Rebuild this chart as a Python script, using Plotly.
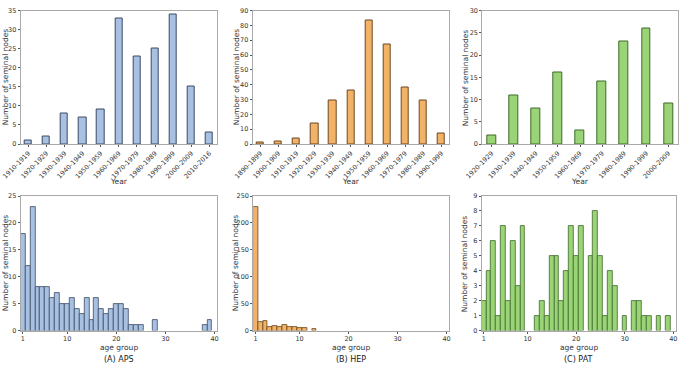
import plotly.graph_objects as go

# ---------------- data ----------------
aps_decades = ["1910-1919", "1920-1929", "1930-1939", "1940-1949", "1950-1959", "1960-1969",
               "1970-1979", "1980-1989", "1990-1999", "2000-2009", "2010-2016"]
aps_decade_counts = [1, 2, 8, 7, 9, 33, 23, 25, 34, 15, 3]

hep_decades = ["1890-1899", "1900-1909", "1910-1919", "1920-1929", "1930-1939", "1940-1949",
               "1950-1959", "1960-1969", "1970-1979", "1980-1989", "1990-1999"]
hep_decade_counts = [1, 2, 4, 14, 29, 36, 83, 67, 38, 29, 7]

pat_decades = ["1920-1929", "1930-1939", "1940-1949", "1950-1959", "1960-1969",
               "1970-1979", "1980-1989", "1990-1999", "2000-2009"]
pat_decade_counts = [2, 11, 8, 16, 3, 14, 23, 26, 9]

age_groups = list(range(1, 41))
aps_age_counts = [18, 12, 23, 8, 8, 8, 6, 7, 5, 5, 6, 4, 3, 6, 2, 6, 4, 3, 4, 5,
                  5, 4, 1, 1, 1, 0, 0, 2, 0, 0, 0, 0, 0, 0, 0, 0, 0, 1, 2, 0]
hep_age_counts = [230, 16, 17, 7, 9, 6, 10, 6, 6, 4, 5, 0, 2, 0, 0, 0, 0, 0, 0, 0,
                  0, 0, 0, 0, 0, 0, 0, 0, 0, 0, 0, 0, 0, 0, 0, 0, 0, 0, 0, 0]
pat_age_counts = [2, 4, 6, 1, 7, 2, 6, 3, 7, 0, 0, 1, 2, 1, 5, 5, 2, 4, 7, 5,
                  7, 0, 5, 8, 5, 1, 4, 3, 0, 1, 0, 2, 2, 1, 1, 0, 1, 0, 1, 0]

captions = ["(A) APS", "(B) HEP", "(C) PAT"]
ytitle = "Number of seminal nodes"

# ---------------- styling ----------------
W, H = 682, 365
FONT = "DejaVu Sans, Liberation Sans, sans-serif"
colors = [("#a8c0e2", "#3b4b66"), ("#f2b267", "#6a4720"), ("#9bd477", "#3c6a29")]

top_x = [(20.7, 217), (252.7, 449), (482.3, 677.7)]
bot_x = [(20.7, 217.3), (253.3, 449.3), (481.7, 676)]
top_y = (10.5, 144)
bot_y = (196, 330.5)
top_yrange = [35, 90, 30]
top_ydtick = [5, 10, 5]
bot_yrange = [25, 250, 9]
bot_ydtick = [5, 50, 1]
yt_x_top = [5, 236, 465]
yt_x_bot = [5, 235, 464]


def px2x(a, b):
    return [a / W, b / W]


def px2y(a, b):
    return [1 - b / H, 1 - a / H]


fig = go.Figure()
layout = {}

top_data = [(aps_decades, aps_decade_counts), (hep_decades, hep_decade_counts),
            (pat_decades, pat_decade_counts)]
bot_data = [aps_age_counts, hep_age_counts, pat_age_counts]

axis_common = dict(showgrid=False, zeroline=False, showline=True, mirror=True,
                   linecolor="#a9a9a9", linewidth=1, ticks="outside", ticklen=2,
                   tickcolor="#555555", automargin=False,
                   tickfont=dict(size=6.5, color="#333333", family=FONT))

for i in range(3):
    fill, edge = colors[i]
    # top decade bar chart
    xi = 2 * i + 1
    cats, vals = top_data[i]
    fig.add_trace(go.Bar(x=cats, y=vals, width=0.4,
                         marker=dict(color=fill, line=dict(color=edge, width=1)),
                         xaxis=f"x{xi}", yaxis=f"y{xi}", showlegend=False))
    n = len(cats)
    layout[f"xaxis{xi}"] = dict(axis_common, domain=px2x(*top_x[i]), anchor=f"y{xi}",
                                type="category", range=[-0.42, n - 0.58], tickangle=-45)
    layout[f"yaxis{xi}"] = dict(axis_common, domain=px2y(*top_y), anchor=f"x{xi}",
                                range=[0, top_yrange[i]], dtick=top_ydtick[i])

    # bottom age-group histogram
    xj = 2 * i + 2
    ax = [a for a, v in zip(age_groups, bot_data[i]) if v > 0]
    av = [v for v in bot_data[i] if v > 0]
    fig.add_trace(go.Bar(x=ax, y=av, width=1,
                         marker=dict(color=fill, line=dict(color=edge, width=0.8)),
                         xaxis=f"x{xj}", yaxis=f"y{xj}", showlegend=False))
    layout[f"xaxis{xj}"] = dict(axis_common, domain=px2x(*bot_x[i]), anchor=f"y{xj}",
                                range=[0.55, 40.55], tickvals=[1, 10, 20, 30, 40])
    layout[f"yaxis{xj}"] = dict(axis_common, domain=px2y(*bot_y), anchor=f"x{xj}",
                                range=[0, bot_yrange[i]], dtick=bot_ydtick[i])


def note(text, xpx, ypx, size, color="#333333", angle=0):
    return dict(text=text, x=xpx / W, y=1 - ypx / H, xref="paper", yref="paper",
                xanchor="center", yanchor="middle", showarrow=False, textangle=angle,
                font=dict(size=size, color=color, family=FONT))


annotations = []
for i in range(3):
    cx_top = (top_x[i][0] + top_x[i][1]) / 2
    cx_bot = (bot_x[i][0] + bot_x[i][1]) / 2
    annotations.append(note("Year", cx_top, 181, 7.5))
    annotations.append(note("age group", cx_bot, 347, 7.5))
    annotations.append(note(captions[i], cx_bot, 359.5, 8, "#222222"))
    annotations.append(note(ytitle, yt_x_top[i], sum(top_y) / 2, 7.5, angle=-90))
    annotations.append(note(ytitle, yt_x_bot[i], sum(bot_y) / 2, 7.5, angle=-90))

layout["annotations"] = annotations
fig.update_layout(**layout)
fig.update_layout(width=W, height=H, margin=dict(l=0, r=0, t=0, b=0),
                  paper_bgcolor="white", plot_bgcolor="white", bargap=0,
                  font=dict(family=FONT, size=7, color="#333333"))

fig.write_html("out.html")
